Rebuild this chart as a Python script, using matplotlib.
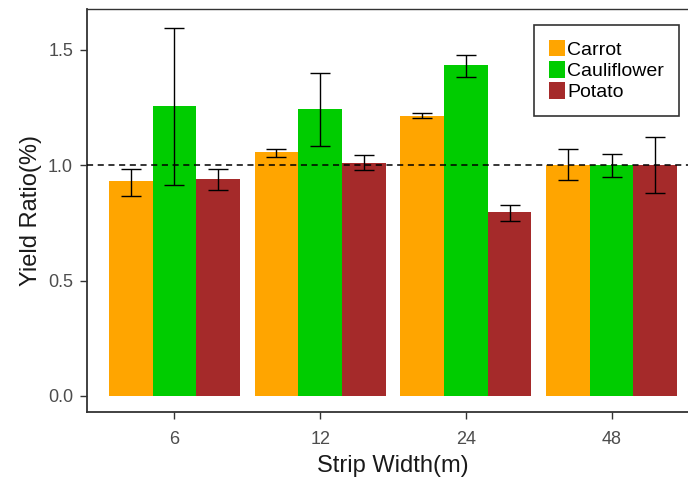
import matplotlib
matplotlib.use("Agg")
import matplotlib.pyplot as plt
import numpy as np
from matplotlib.patches import Patch

plt.rcParams['font.family'] = ['Liberation Sans', 'DejaVu Sans']

widths = ["6", "12", "24", "48"]
crops = ["Carrot", "Cauliflower", "Potato"]
colors = ["#FFA500", "#00CC00", "#A52A2A"]
means = {
    "Carrot":      [0.93, 1.055, 1.215, 1.00],
    "Cauliflower": [1.255, 1.245, 1.433, 1.00],
    "Potato":      [0.94, 1.01, 0.795, 1.00],
}
lower = {
    "Carrot":      [0.867, 1.037, 1.205, 0.935],
    "Cauliflower": [0.915, 1.085, 1.384, 0.949],
    "Potato":      [0.894, 0.977, 0.759, 0.881],
}
upper = {
    "Carrot":      [0.983, 1.072, 1.228, 1.072],
    "Cauliflower": [1.595, 1.399, 1.479, 1.050],
    "Potato":      [0.983, 1.043, 0.828, 1.120],
}

fig = plt.figure(figsize=(6.88, 4.79), dpi=100)
ax = fig.add_axes([87/688, 67/479, (699-87)/688, (412-9)/479])

x = np.arange(1, len(widths) + 1)
bw = 0.3
for i, crop in enumerate(crops):
    xs = x + (i - 1) * bw
    m = np.array(means[crop])
    lo = m - np.array(lower[crop])
    hi = np.array(upper[crop]) - m
    ax.bar(xs, m, width=bw, color=colors[i], zorder=2)
    ax.errorbar(xs, m, yerr=[lo, hi], fmt='none', ecolor='black',
                elinewidth=1.0, capsize=7, capthick=1.0, zorder=3)

ax.axhline(1.0, color='black', linestyle=(0, (4, 3)), linewidth=1.1, zorder=4)

ax.set_xlim(0.4, 4.6)
ax.set_ylim(-0.07, 1.677)
ax.set_xticks(x)
ax.set_xticklabels(widths)
ax.set_yticks([0.0, 0.5, 1.0, 1.5])
ax.set_yticklabels(["0.0", "0.5", "1.0", "1.5"])
ax.tick_params(axis='both', colors='#333333', labelcolor='#4D4D4D',
               labelsize=13, length=5, width=1)
ax.tick_params(axis='x', pad=9)
ax.tick_params(axis='y', pad=5)

for s in ax.spines.values():
    s.set_color('#333333')
    s.set_linewidth(1.0)
ax.spines['left'].set_linewidth(1.3)
ax.spines['bottom'].set_linewidth(1.3)

ax.set_xlabel("Strip Width(m)", fontsize=17, color='#1a1a1a', labelpad=5)
ax.set_ylabel("Yield Ratio(%)", fontsize=17, color='#1a1a1a', labelpad=4)

handles = [Patch(facecolor=c, label=l) for c, l in zip(colors, crops)]
leg = ax.legend(handles=handles, loc='upper left',
                bbox_to_anchor=((534-87)/612, (412-25)/403),
                frameon=True, fancybox=False, fontsize=14,
                handlelength=0.85, handleheight=0.95, handletextpad=0.1,
                labelspacing=0.12, borderpad=0.75, borderaxespad=0,
                edgecolor='black')
leg.get_frame().set_linewidth(1.2)

fig.savefig("out.png", dpi=100)
